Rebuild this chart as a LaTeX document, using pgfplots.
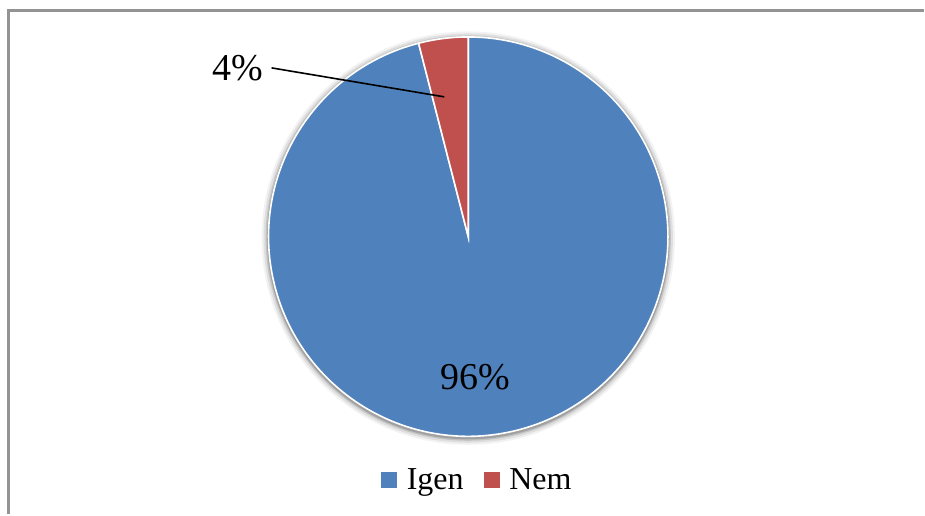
\documentclass[border=0pt]{standalone}
\usepackage{pgfplots}
\pgfplotsset{compat=1.18}
\usepackage{fontspec}
\setmainfont{Liberation Serif}
\definecolor{cblue}{HTML}{4F81BD}
\definecolor{cred}{HTML}{C0504D}
\begin{document}
\begin{tikzpicture}
% pie values (percent)
\def\vIgen{96}
\def\vNem{4}
\pgfmathsetmacro{\aStart}{90}
\pgfmathsetmacro{\aMid}{90+\vNem*3.6}
\pgfmathsetmacro{\aEnd}{90+360}
\begin{axis}[
  scale only axis, width=462.5pt, height=257.5pt,
  xmin=0, xmax=925, ymin=0, ymax=515,
  hide axis, clip=false,
  legend style={at={(axis cs:479,34)}, anchor=center, legend columns=2,
    draw=none, fill=none, font=\fontsize{16}{19}\selectfont,
    nodes={inner xsep=2pt},
    /tikz/every odd column/.append style={column sep=3pt},
    /tikz/every even column/.append style={column sep=8pt}},
  legend image code/.code={\fill[#1] (0pt,-3.75pt) rectangle (7.5pt,3.75pt);},
]
\path (axis cs:0,0) rectangle (axis cs:925,515);
% frame (left and top)
\draw[gray!85, line width=1.5pt] (axis cs:8.5,0) -- (axis cs:8.5,504.5) -- (axis cs:925,504.5);
% shadow
\fill[black, opacity=0.05] (axis cs:469,276.5) circle[radius=103.5pt];
\fill[black, opacity=0.08] (axis cs:469,276.5) circle[radius=102.5pt];
\fill[black, opacity=0.12] (axis cs:469,276.5) circle[radius=101.5pt];
\fill[black, opacity=0.18] (axis cs:469,276.5) circle[radius=100.8pt];
% slices
\fill[cblue, draw=white, line width=0.8pt] (axis cs:469,278) -- ++(\aMid:100pt)
   arc[start angle=\aMid, end angle=\aEnd, radius=100pt] -- cycle;
\fill[cred, draw=white, line width=0.8pt] (axis cs:469,278) -- ++(\aStart:100pt)
   arc[start angle=\aStart, end angle=\aMid, radius=100pt] -- cycle;
% labels
\draw[black, line width=0.8pt] (axis cs:272,447) -- (axis cs:445,418);
\node[font=\fontsize{19}{22}\selectfont] at (axis cs:238,447) {4\%};
\node[font=\fontsize{19}{22}\selectfont] at (axis cs:476,137) {96\%};
\addlegendimage{cblue}
\addlegendentry{Igen}
\addlegendimage{cred}
\addlegendentry{Nem}
\end{axis}
\end{tikzpicture}
\end{document}
